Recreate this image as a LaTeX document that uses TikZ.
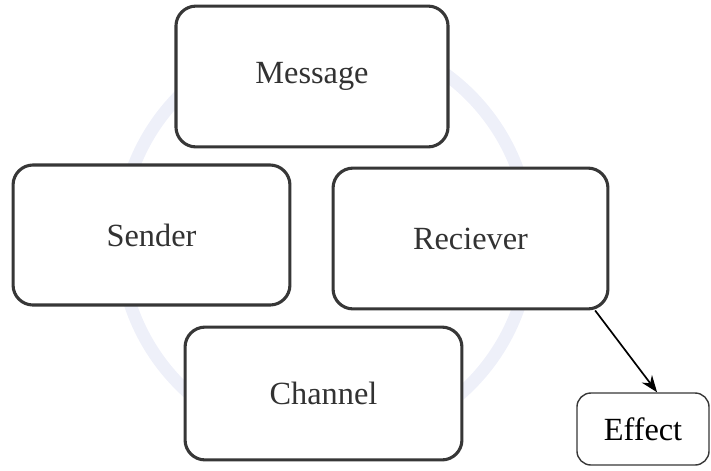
\documentclass[tikz,border=0pt]{standalone}
\usepackage{fontspec}
\setmainfont{Liberation Serif}
\usetikzlibrary{arrows.meta}
\definecolor{ringblue}{RGB}{238,240,249}
\definecolor{boxline}{RGB}{55,55,55}
\definecolor{txtgray}{RGB}{50,50,50}
\tikzset{
  bigbox/.style={draw=boxline,fill=white,line width=2.2pt,rounded corners=0.5cm,
    text=txtgray,font=\fontsize{23}{26}\selectfont,inner sep=0pt},
  smallbox/.style={draw=boxline,fill=white,line width=1pt,rounded corners=0.35cm,
    text=black,font=\fontsize{23}{26}\selectfont,inner sep=0pt}
}
\begin{document}
\begin{tikzpicture}[x=0.025cm,y=-0.025cm]
        \useasboundingbox (0,0) rectangle (711,470);
        % faint ring behind the boxes
        \draw[ringblue,line width=9pt] (325,240) circle (205);
        \node[bigbox,minimum width=6.8cm,minimum height=3.52cm] (msg) at (312,76.5) {Message};
        \node[bigbox,minimum width=6.92cm,minimum height=3.5cm] (snd) at (151.5,235) {Sender};
        \node[bigbox,minimum width=6.87cm,minimum height=3.52cm] (rec) at (470.5,238.5) {Reciever};
        \node[bigbox,minimum width=6.92cm,minimum height=3.32cm] (chn) at (323.5,393.5) {Channel};
        \node[smallbox,minimum width=3.3cm,minimum height=1.8cm] (eff) at (643,429) {Effect};
        \draw[line width=1.2pt,-{Stealth[length=12pt,width=9pt]}] (rec.-30) -- (eff.69);
\end{tikzpicture}
\end{document}
